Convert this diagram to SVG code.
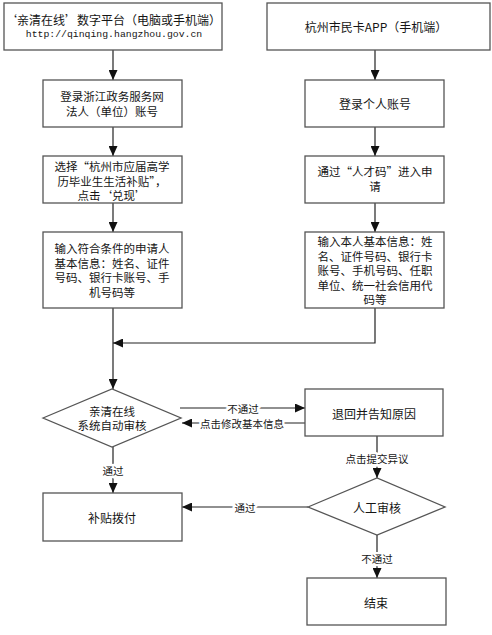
<svg xmlns="http://www.w3.org/2000/svg" width="492" height="635" viewBox="0 0 492 635">
<defs>
<marker id="ah" markerUnits="userSpaceOnUse" markerWidth="10" markerHeight="9" refX="10" refY="4.5" orient="auto">
<path d="M0,0 L10,4.5 L0,9 z" fill="#111"/>
</marker>
</defs>
<style>
.box{fill:#fff;stroke:#555;stroke-width:1.3}
.t{font-family:"Noto Sans CJK SC","Noto Sans",sans-serif;font-size:12px;fill:#151515;text-anchor:middle;dominant-baseline:central}
.m{font-size:11.5px}
.url{font-family:"Liberation Mono",monospace;font-size:9.8px;fill:#151515;text-anchor:middle;dominant-baseline:central}
.lbl{font-family:"Noto Sans CJK SC","Noto Sans",sans-serif;font-size:10.5px;fill:#151515;text-anchor:middle;dominant-baseline:central;paint-order:stroke;stroke:#fff;stroke-width:5;stroke-linejoin:round}
.c{fill:none;stroke:#222;stroke-width:1.2;marker-end:url(#ah)}
</style>
<rect width="492" height="635" fill="#fff"/>
<g id="connectors">
<path class="c" d="M113,50 V80"/>
<path class="c" d="M113,127 V156"/>
<path class="c" d="M113,203 V232"/>
<path class="c" d="M113,308 V389"/>
<path class="c" d="M375,50 V80"/>
<path class="c" d="M375,127 V156"/>
<path class="c" d="M375,203 V232"/>
<path class="c" d="M375,308 V343 H113"/>
<path class="c" d="M180,408 H305"/>
<path class="c" d="M305,423 H182"/>
<path class="c" d="M113,447 V493"/>
<path class="c" d="M377,436 V478"/>
<path class="c" d="M308,507 H182"/>
<path class="c" d="M377,535 V578"/>
<text class="lbl" x="243" y="408">不通过</text>
<text class="lbl" x="242" y="423">点击修改基本信息</text>
<text class="lbl" x="113" y="470">通过</text>
<text class="lbl" x="377" y="458">点击提交异议</text>
<text class="lbl" x="245" y="507">通过</text>
<text class="lbl" x="377" y="558">不通过</text>
</g>
<g id="n1">
<rect class="box" x="4" y="3" width="218" height="47"/>
<text class="t" x="113" y="19">‘亲清在线’数字平台（电脑或手机端）</text>
<text class="url" x="114" y="34">http://qinqing.hangzhou.gov.cn</text>
</g>
<g id="n2">
<rect class="box" x="267" y="3" width="223" height="47"/>
<text class="t" x="376" y="26">杭州市民卡APP（手机端）</text>
</g>
<g id="n3">
<rect class="box" x="43" y="80" width="139" height="47"/>
<text class="t m" x="112" y="96">登录浙江政务服务网</text>
<text class="t m" x="112" y="111">法人（单位）账号</text>
</g>
<g id="n4">
<rect class="box" x="43" y="156" width="139" height="47"/>
<text class="t m" x="112" y="166">选择“杭州市应届高学</text>
<text class="t m" x="112" y="180.5">历毕业生生活补贴”，</text>
<text class="t m" x="112" y="195">点击‘兑现’</text>
</g>
<g id="n5">
<rect class="box" x="43" y="232" width="139" height="76"/>
<text class="t m" x="112" y="248">输入符合条件的申请人</text>
<text class="t m" x="112" y="262.5">基本信息：姓名、证件</text>
<text class="t m" x="112" y="277">号码、银行卡账号、手</text>
<text class="t m" x="112" y="291.5">机号码等</text>
</g>
<g id="n6">
<rect class="box" x="305" y="80" width="139" height="47"/>
<text class="t" x="375" y="103">登录个人账号</text>
</g>
<g id="n7">
<rect class="box" x="305" y="156" width="139" height="47"/>
<text class="t m" x="375" y="171">通过“人才码”进入申</text>
<text class="t m" x="375" y="186">请</text>
</g>
<g id="n8">
<rect class="box" x="305" y="232" width="139" height="76"/>
<text class="t m" x="375" y="241">输入本人基本信息：姓</text>
<text class="t m" x="375" y="255.5">名、证件号码、银行卡</text>
<text class="t m" x="375" y="270">账号、手机号码、任职</text>
<text class="t m" x="375" y="284.5">单位、统一社会信用代</text>
<text class="t m" x="375" y="299">码等</text>
</g>
<g id="n9">
<path class="box" d="M43,418 L112,389 L181,418 L112,447 z"/>
<text class="t m" x="112" y="410.5">亲清在线</text>
<text class="t m" x="112" y="425">系统自动审核</text>
</g>
<g id="n10">
<rect class="box" x="305" y="389" width="138" height="47"/>
<text class="t" x="374" y="413">退回并告知原因</text>
</g>
<g id="n11">
<rect class="box" x="43" y="493" width="139" height="48"/>
<text class="t" x="112" y="517">补贴拨付</text>
</g>
<g id="n12">
<path class="box" d="M308,507 L377,478 L445,507 L377,535 z"/>
<text class="t" x="377" y="507">人工审核</text>
</g>
<g id="n13">
<rect class="box" x="307" y="578" width="139" height="47"/>
<text class="t" x="376" y="602">结束</text>
</g>
</svg>
